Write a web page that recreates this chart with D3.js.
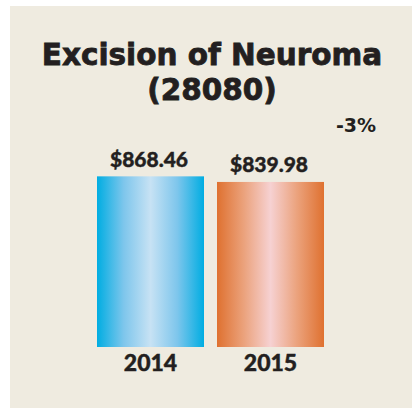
<!DOCTYPE html>
<html>
<head>
<meta charset="utf-8">
<script src="https://cdn.jsdelivr.net/npm/d3@7"></script>
<style>
  html, body { margin: 0; padding: 0; background: #ffffff; }
  svg { display: block; }
  text { font-family: Lato, "Open Sans", sans-serif; font-weight: 900; fill: #231f20; }
  text.title, text.change { font-family: "DejaVu Sans", sans-serif; font-weight: bold; }
</style>
</head>
<body>
<svg id="chart" width="417" height="409"></svg>
<script>
const titleLines = ["Excision of Neuroma", "(28080)"];
const years = ["2014", "2015"];
const costs = [868.46, 839.98];
const valueLabels = ["$868.46", "$839.98"];
const changeLabel = "-3%";

const svg = d3.select("#chart");

svg.append("rect")
  .attr("x", 10).attr("y", 6)
  .attr("width", 402).attr("height", 402)
  .attr("fill", "#efebe0");

const defs = svg.append("defs");
const gradStops = [
  ["#00ade2", "#7ec6ec", "#c7e2f4", "#7ec6ec", "#00ade2"],
  ["#df7130", "#eba27c", "#f6d1d2", "#eba27c", "#df7130"]
];
gradStops.forEach((stops, i) => {
  const g = defs.append("linearGradient")
    .attr("id", "grad" + i)
    .attr("x1", "0%").attr("x2", "100%").attr("y1", "0%").attr("y2", "0%");
  stops.forEach((c, j) => {
    g.append("stop").attr("offset", (j / (stops.length - 1) * 100) + "%").attr("stop-color", c);
  });
});

const x = d3.scaleBand().domain(years).range([97, 324]).paddingInner(13 / 120).paddingOuter(0);
const y = d3.scaleLinear().domain([0, 1000]).range([347, 150.5]);

const data = years.map((yr, i) => ({ year: yr, cost: costs[i], label: valueLabels[i], idx: i }));

svg.selectAll("rect.bar")
  .data(data)
  .join("rect")
  .attr("class", "bar")
  .attr("x", d => x(d.year))
  .attr("y", d => y(d.cost))
  .attr("width", x.bandwidth())
  .attr("height", d => y(0) - y(d.cost))
  .attr("fill", d => `url(#grad${d.idx})`);

svg.selectAll("text.val")
  .data(data)
  .join("text")
  .attr("class", "val")
  .attr("x", d => x(d.year) + x.bandwidth() / 2 - 1.5)
  .attr("y", d => y(d.cost) - 9.5)
  .attr("text-anchor", "middle")
  .attr("font-size", 21)
  .attr("stroke", "#231f20")
  .attr("stroke-width", 0.4)
  .text(d => d.label);

const xAxis = d3.axisBottom(x).tickSize(0).tickPadding(0);
const ax = svg.append("g").attr("transform", `translate(0, ${y(0)})`).call(xAxis);
ax.select(".domain").remove();
ax.selectAll("text")
  .attr("dy", null)
  .attr("y", 24)
  .attr("font-size", 23)
  .style("font-family", "Lato, 'Open Sans', sans-serif")
  .style("font-weight", 900)
  .attr("fill", "#231f20")
  .attr("stroke", "#231f20")
  .attr("stroke-width", 0.4);

svg.selectAll("text.title")
  .data(titleLines)
  .join("text")
  .attr("class", "title")
  .attr("x", 212)
  .attr("y", (d, i) => 65 + i * 35)
  .attr("text-anchor", "middle")
  .attr("font-size", 29.5)
  .attr("stroke", "#231f20")
  .attr("stroke-width", 0.8)
  .text(d => d);

svg.append("text")
  .attr("class", "change")
  .attr("x", 356)
  .attr("y", 132)
  .attr("text-anchor", "middle")
  .attr("font-size", 19)
  .text(changeLabel);
</script>
</body>
</html>
